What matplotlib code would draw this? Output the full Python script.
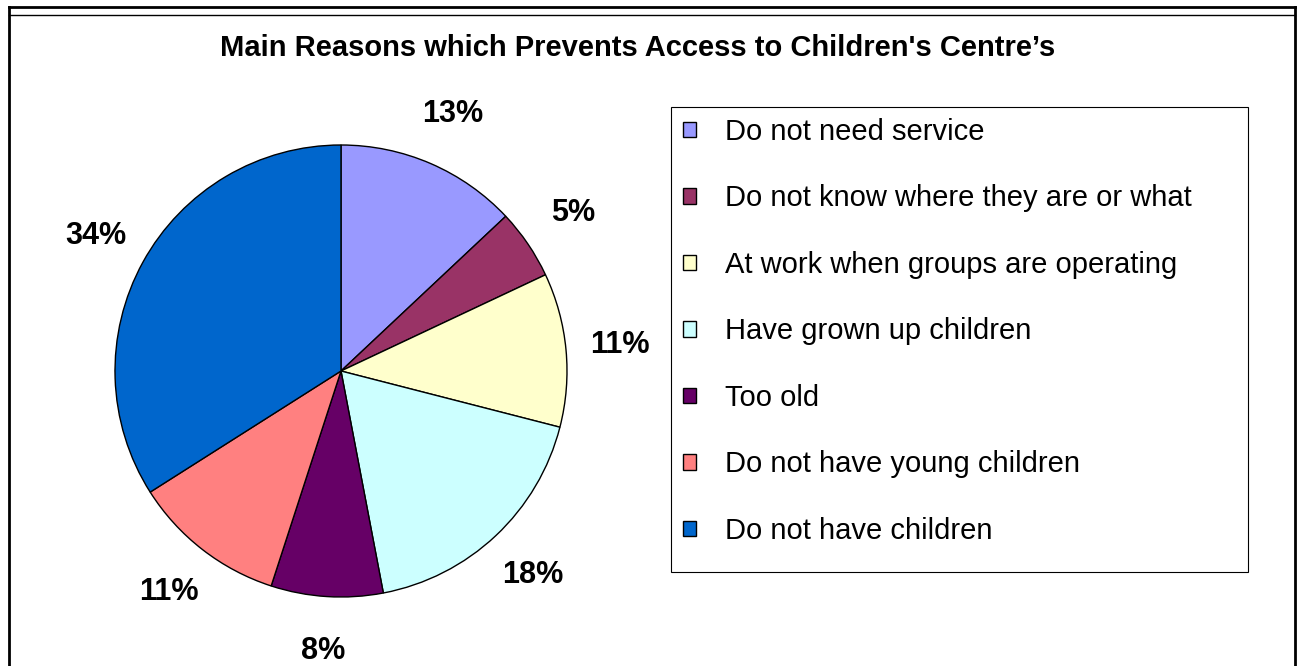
import matplotlib
matplotlib.use("Agg")
import matplotlib.pyplot as plt
from matplotlib.lines import Line2D
from matplotlib.patches import Rectangle

plt.rcParams['font.family'] = ['Liberation Sans', 'DejaVu Sans']

reasons = ["Do not need service", "Do not know where they are or what",
           "At work when groups are operating", "Have grown up children",
           "Too old", "Do not have young children", "Do not have children"]
shares = [13, 5, 11, 18, 8, 11, 34]
colors = ["#9999FF", "#993366", "#FFFFCC", "#CCFFFF", "#660066", "#FF8080", "#0066CC"]
title = "Main Reasons which Prevents Access to Children's Centre\u2019s"

W, H = 1301, 666
fig = plt.figure(figsize=(W / 100, H / 100), dpi=100)

# pie axes, centre (341, 371) px, radius 226 px
cx, cy, r = 341, 371, 226
half = 280
ax = fig.add_axes([(cx - half) / W, (H - cy - half) / H, 2 * half / W, 2 * half / H])
wedges, texts, autotexts = ax.pie(shares, colors=colors, startangle=90, counterclock=False,
                                  autopct='%1.0f%%', pctdistance=1.24,
                                  wedgeprops=dict(edgecolor='black', linewidth=1))
for t in autotexts:
    t.set_fontsize(22)
    t.set_fontweight('bold')
ax.set_xlim(-half / r, half / r)
ax.set_ylim(-half / r, half / r)
ax.set_aspect('equal')
ax.axis('off')

fig.text(638 / W, 1 - 48 / H, title, ha='center', va='center', fontsize=21, fontweight='bold')

# legend box (Excel style, extra room at the bottom)
lx0, lx1, ly0, ly1 = 671, 1248, 107, 572
fig.add_artist(Rectangle((lx0 / W, 1 - ly1 / H), (lx1 - lx0) / W, (ly1 - ly0) / H,
                         transform=fig.transFigure, facecolor='none',
                         edgecolor='black', linewidth=0.8))
leg = fig.legend(wedges, reasons, loc='upper left',
                 bbox_to_anchor=(lx0 / W, 1 - 106 / H - 0.01, (lx1 - lx0) / W, 0.01),
                 mode='expand', fontsize=21, frameon=False,
                 labelspacing=1.32, handlelength=0.45, handleheight=0.45,
                 handletextpad=1.0, borderpad=0.41, borderaxespad=0)

# outer border
for xs, ys, lw in [([9, 1295], [7, 7], 2), ([9, 1295], [15, 15], 1),
                   ([9, 9], [7, 666], 2), ([1295, 1295], [7, 666], 2)]:
    fig.add_artist(Line2D([x / W for x in xs], [1 - y / H for y in ys],
                          color='black', lw=lw, transform=fig.transFigure))

fig.savefig("out.png", dpi=100)
